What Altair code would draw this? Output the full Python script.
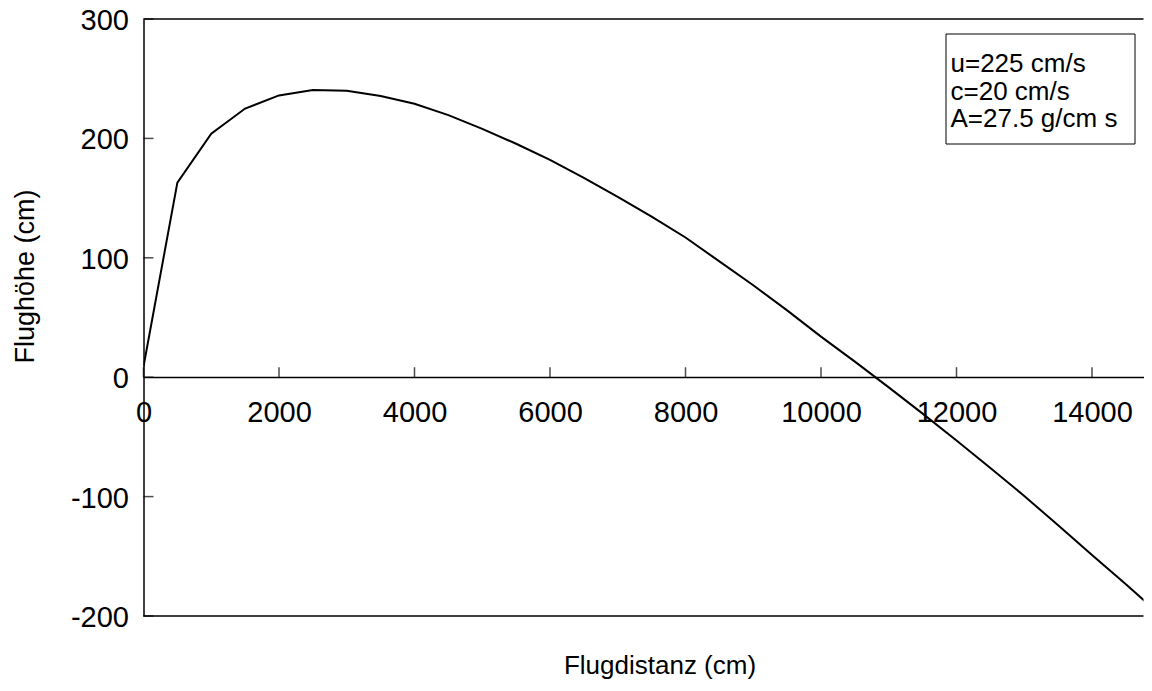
import altair as alt
import pandas as pd

# Flight distance (cm) and flight height (cm)
distance = [0, 500, 1000, 1500, 2000, 2500, 3000, 3500, 4000, 4500, 5000,
            5500, 6000, 6500, 7000, 7500, 8000, 8500, 9000, 9500, 10000,
            10500, 11000, 11500, 12000, 12500, 13000, 13500, 14000, 14500, 15000]
height = [9, 163, 204, 225, 236, 240.5, 240, 235.5, 229, 219.5, 208,
          195.5, 182, 167, 151, 134.5, 117, 97, 77, 56, 34,
          13, -8.5, -30.5, -53, -76, -99.5, -124, -149, -173.5, -198.5]

x_ticks = [0, 2000, 4000, 6000, 8000, 10000, 12000, 14000]
y_ticks = [-200, -100, 0, 100, 200, 300]
frame_y = [300, -200]
legend_lines = ["u=225 cm/s", "c=20 cm/s", "A=27.5 g/cm s"]

FONT = "Liberation Sans"
W, H = 1000, 597

df = pd.DataFrame({"Flugdistanz": distance, "Flughoehe": height})
xt = pd.DataFrame({"xt": x_ticks})
yt = pd.DataFrame({"yt": y_ticks})
fr = pd.DataFrame({"fy": frame_y})
one = pd.DataFrame({"label": ["\n".join(legend_lines)]})

xscale = alt.Scale(domain=[0, 14760], nice=False, zero=False)
yscale = alt.Scale(domain=[-200, 300], nice=False)

x_axis = alt.Axis(
    values=x_ticks, labelExpr="'' + datum.value", ticks=False, grid=False,
    domain=True, domainColor="black", domainWidth=1.5,
    offset=-239, labelFontSize=29, labelFont=FONT, labelColor="black",
    labelPadding=21, labelFlush=False, labelOverlap=False,
    title="Flugdistanz (cm)", titleFont=FONT, titleFontSize=26,
    titleFontWeight="normal", titleColor="black",
    titleX=516, titleY=288, titleBaseline="middle", titleAlign="center",
)
y_axis = alt.Axis(
    values=y_ticks, labelExpr="'' + datum.value", ticks=False, grid=False,
    domain=True, domainColor="black", domainWidth=1.5,
    labelFontSize=29, labelFont=FONT, labelColor="black",
    labelPadding=15, labelFlush=False, labelOverlap=False, labelOffset=1.5,
    title="Flughöhe (cm)", titleFont=FONT, titleFontSize=27,
    titleFontWeight="normal", titleColor="black",
    titleX=-118, titleY=257, titleBaseline="middle", titleAlign="center",
    titleAngle=270,
)

line = alt.Chart(df).mark_line(color="black", strokeWidth=2, clip=True).encode(
    x=alt.X("Flugdistanz:Q", scale=xscale, axis=x_axis),
    y=alt.Y("Flughoehe:Q", scale=yscale, axis=y_axis),
)

frame = alt.Chart(fr).mark_rule(color="black", strokeWidth=1.5).encode(
    y=alt.Y("fy:Q", scale=yscale),
)

xticks = alt.Chart(xt).mark_tick(
    orient="vertical", size=10, thickness=1.5, yOffset=-5, color="black"
).encode(
    x=alt.X("xt:Q", scale=xscale),
    y=alt.datum(0),
)

yticks = alt.Chart(yt).mark_tick(
    orient="horizontal", size=10, thickness=1.5, xOffset=5, color="black"
).encode(
    y=alt.Y("yt:Q", scale=yscale),
    x=alt.datum(0),
)

box = alt.Chart(one).mark_rect(
    fill="white", stroke="black", strokeWidth=1
).encode(
    x=alt.value(802.5), x2=alt.value(991.5),
    y=alt.value(15), y2=alt.value(125),
)

legend_text = alt.Chart(one).mark_text(
    text=legend_lines, align="left", baseline="middle", lineHeight=27.5,
    font=FONT, fontSize=26, color="black",
).encode(
    x=alt.value(807), y=alt.value(45),
)

chart = alt.layer(frame, line, xticks, yticks, box, legend_text).properties(
    width=W, height=H,
    autosize=alt.AutoSizeParams(type="none"),
    padding={"left": 135.5, "top": 11, "right": 0.5, "bottom": 67},
).configure_view(stroke=None)

chart.save("out.html", embed_options={"renderer": "svg", "actions": False})
